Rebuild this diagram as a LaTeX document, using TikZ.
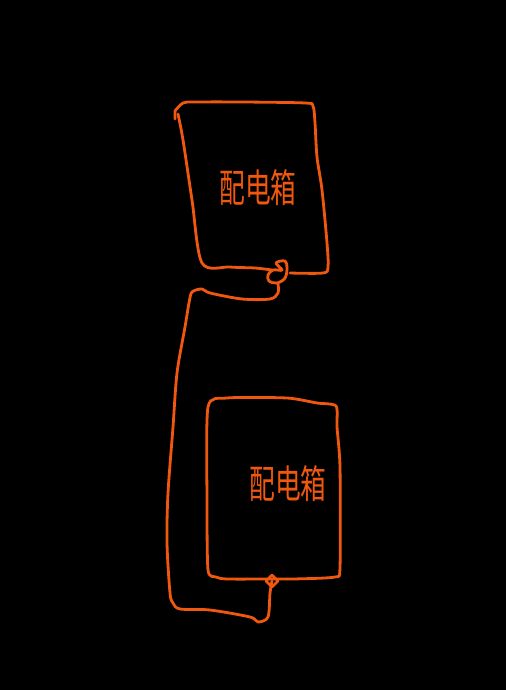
\documentclass[tikz,border=0pt]{standalone}
\usepackage{fontspec}
\newfontfamily\cjk[FakeStretch=0.66]{Noto Sans CJK SC}
\definecolor{pen}{RGB}{240,88,16}
\tikzset{
sketch/.style={
	draw=pen, line width=2.8pt, line cap=round, line join=round},
wire/.style={sketch},
boxlabel/.style={
	text=pen, inner sep=0pt, font=\cjk\fontsize{39}{39}\selectfont}
}

\begin{document}
\begin{tikzpicture}[x=1pt, y=-1pt]
	\fill[black] (0,0) rectangle (506,690);
	\useasboundingbox (0,0) rectangle (506,690);
	% upper box
	\coordinate (j1) at (278,284);
	\draw[sketch] (175,119) -- (175,111)
		plot[smooth, tension=0.5] coordinates {(175,111) (183,103) (195,102) (243,102) (305,103) (313,106)
		(315,123) (317,157) (322,190) (327,243) (328,267) (323,273) (290,273)};
	\draw[sketch] plot[smooth, tension=0.5] coordinates {(178,114) (183,140) (192,200) (202,263)
		(230,267) (255,268) (272,270)};
	\draw[sketch] plot[smooth cycle, tension=0.6] coordinates {(276,263) (285,261) (287,268)
		(285,278) (277,283) (269,281) (268,275) (273,270) (282,270)};
	\node[boxlabel] (top) at (258,188) {配电箱};
	% lower box
	\coordinate (j2) at (272,581);
	\draw[sketch] plot[smooth cycle, tension=0.4] coordinates {(208,407) (227,398) (287,398)
		(317,403) (336,406) (337,427) (340,467) (340,567) (335,577) (293,579) (273,579)
		(227,579) (216,577) (208,570) (207,500)};
	\draw[sketch] (j2) ++(0,-6) -- ++(6,6) -- ++(-6,6) -- ++(-6,-6) -- cycle;
	\node[boxlabel] (bottom) at (288,484) {配电箱};
	% wire between the boxes
	\draw[wire] plot[smooth, tension=0.5] coordinates {(j1) (278,293) (270,299) (242,299) (210,293)
		(202,289) (192,292) (189,303) (185,327) (177,373) (173,427) (168,493) (167,543)
		(170,593) (173,603) (180,609) (210,610) (250,617) (258,622) (268,617) (270,593) (j2)};
\end{tikzpicture}
\end{document}
